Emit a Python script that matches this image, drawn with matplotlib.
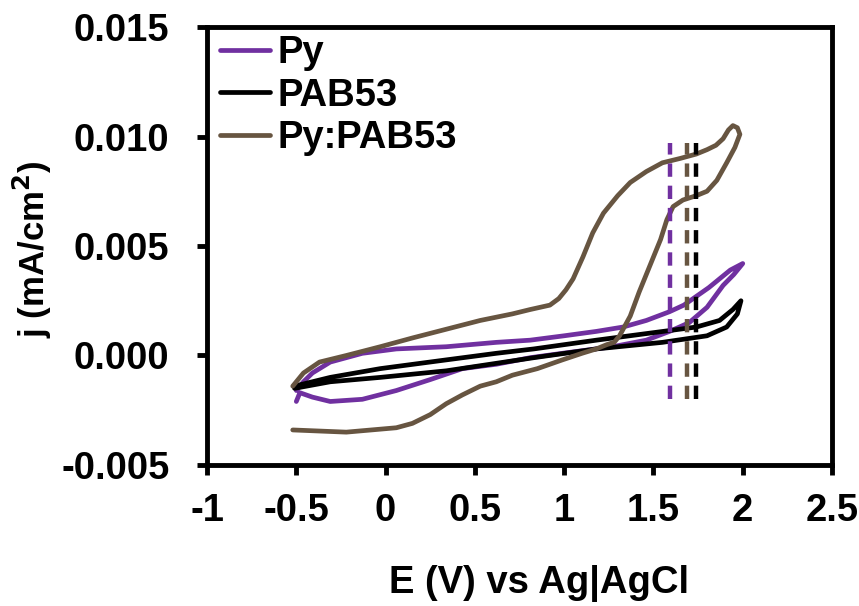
import matplotlib
matplotlib.use("Agg")
import matplotlib.pyplot as plt

# Cyclic voltammograms along the scan path: E (V vs Ag|AgCl), j (mA/cm^2)
py_E = [-0.50, -0.46, -0.41, -0.31, -0.13, 0.06, 0.34, 0.62, 0.81, 1.00, 1.18,
        1.33, 1.46, 1.59, 1.67, 1.74, 1.81, 1.87, 1.93, 2.00,
        1.95, 1.89, 1.80, 1.70, 1.59, 1.46, 1.27, 0.99, 0.81, 0.62, 0.43, 0.25,
        0.06, -0.13, -0.31, -0.41, -0.48, -0.50]
py_j = [-0.0016, -0.0012, -0.0008, -0.0003, 0.0001, 0.0003, 0.0004, 0.0006,
        0.0007, 0.0009, 0.0011, 0.0013, 0.0016, 0.0020, 0.0023, 0.0027, 0.0031,
        0.0035, 0.0039, 0.0042,
        0.0037, 0.0032, 0.0022, 0.0015, 0.0011, 0.0007, 0.0004, 0.0001, -0.0001,
        -0.0004, -0.0006, -0.0011, -0.0016, -0.0020, -0.0021, -0.0019, -0.0017,
        -0.0021]

pab_E = [-0.51, -0.31, -0.03, 0.34, 0.62, 0.83, 1.18, 1.46, 1.74, 1.87, 1.945,
         1.99, 1.97, 1.91, 1.80, 1.55, 1.18, 0.83, 0.34, -0.03, -0.31, -0.51]
pab_j = [-0.0014, -0.0010, -0.0006, -0.0002, 0.0001, 0.0003, 0.0007, 0.0010,
         0.0013, 0.0016, 0.0021, 0.0025, 0.0019, 0.0013, 0.0009, 0.0006, 0.0003,
         -0.0001, -0.0007, -0.0010, -0.0012, -0.0015]

mix_E = [-0.52, -0.22, 0.06, 0.15, 0.25, 0.34, 0.43, 0.53, 0.62, 0.71, 0.85,
         0.99, 1.10, 1.18, 1.24, 1.28, 1.31, 1.37, 1.42, 1.48, 1.54, 1.575,
         1.61, 1.665, 1.74, 1.80, 1.855, 1.91, 1.956, 1.984,
         1.97, 1.945, 1.92, 1.89, 1.85, 1.80, 1.74, 1.65, 1.55, 1.46, 1.37,
         1.30, 1.22, 1.16, 1.105, 1.05, 1.01, 0.97, 0.92, 0.81, 0.71, 0.53,
         0.34, 0.15, -0.03, -0.22, -0.37, -0.46, -0.52]
mix_j = [-0.0034, -0.0035, -0.0033, -0.0031, -0.0027, -0.0022, -0.0018,
         -0.0014, -0.0012, -0.0009, -0.0006, -0.0002, 0.0001, 0.0003, 0.0005,
         0.0006, 0.0009, 0.0018, 0.0029, 0.0041, 0.0053, 0.0062, 0.0068,
         0.0071, 0.0073, 0.0075, 0.0080, 0.0088, 0.0095, 0.0101,
         0.0104, 0.0105, 0.0103, 0.0099, 0.0096, 0.0094, 0.0092, 0.0090,
         0.0088, 0.0084, 0.0079, 0.0073, 0.0065, 0.0056, 0.0045, 0.0035,
         0.0030, 0.0026, 0.0023, 0.0021, 0.0019, 0.0016, 0.0012, 0.0008,
         0.0004, 0.0000, -0.0003, -0.0008, -0.0014]

labels = ["Py", "PAB53", "Py:PAB53"]
colors = ["#7030A0", "#000000", "#675541"]

# onset potentials, drawn as dashed verticals
onset_E = [1.59, 1.74, 1.69]
onset_range = (-0.002, 0.0097)

plt.rcParams["font.family"] = ["Liberation Sans", "DejaVu Sans"]
plt.rcParams["font.weight"] = "bold"

fig = plt.figure(figsize=(8.59, 6.06), dpi=100)
ax = fig.add_axes([0.241, 0.2327, 0.7276, 0.7227])

for E, j, lab, c in zip([py_E, pab_E, mix_E], [py_j, pab_j, mix_j], labels, colors):
    ax.plot(E, j, color=c, lw=3.4, label=lab, solid_capstyle="round",
            solid_joinstyle="round")

for x, c in zip(onset_E, colors):
    ax.vlines(x, *onset_range, colors=c, lw=3.2, linestyles=(0, (3, 2)))

ax.set_xlim(-1, 2.5)
ax.set_ylim(-0.005, 0.015)
ax.set_xticks([-1, -0.5, 0, 0.5, 1, 1.5, 2, 2.5])
ax.set_xticklabels(["-1", "-0.5", "0", "0.5", "1", "1.5", "2", "2.5"])
ax.set_yticks([-0.005, 0.0, 0.005, 0.010, 0.015])
ax.set_yticklabels(["-0.005", "0.000", "0.005", "0.010", "0.015"])

for sp in ax.spines.values():
    sp.set_linewidth(3.5)
ax.tick_params(axis="both", direction="out", length=7, width=3.5,
               labelsize=27.5)
ax.tick_params(axis="x", pad=13)
ax.tick_params(axis="y", pad=20)

fig.text(0.627, 0.0215, "E (V) vs Ag|AgCl", fontsize=27.5, fontweight="bold",
         ha="center", va="baseline")
fig.text(0.038, 0.588, "j (mA/cm$^\\mathbf{2}$)", fontsize=25, fontweight="bold",
         rotation=90, ha="center", va="center")

leg = ax.legend(loc="upper left", bbox_to_anchor=(0.015, 0.99), frameon=False,
                fontsize=27.5, handlelength=1.3, handletextpad=0.2,
                labelspacing=0.17, borderpad=0.1, borderaxespad=0)
for t in leg.get_texts():
    t.set_fontweight("bold")

fig.savefig("out.png", dpi=100)
